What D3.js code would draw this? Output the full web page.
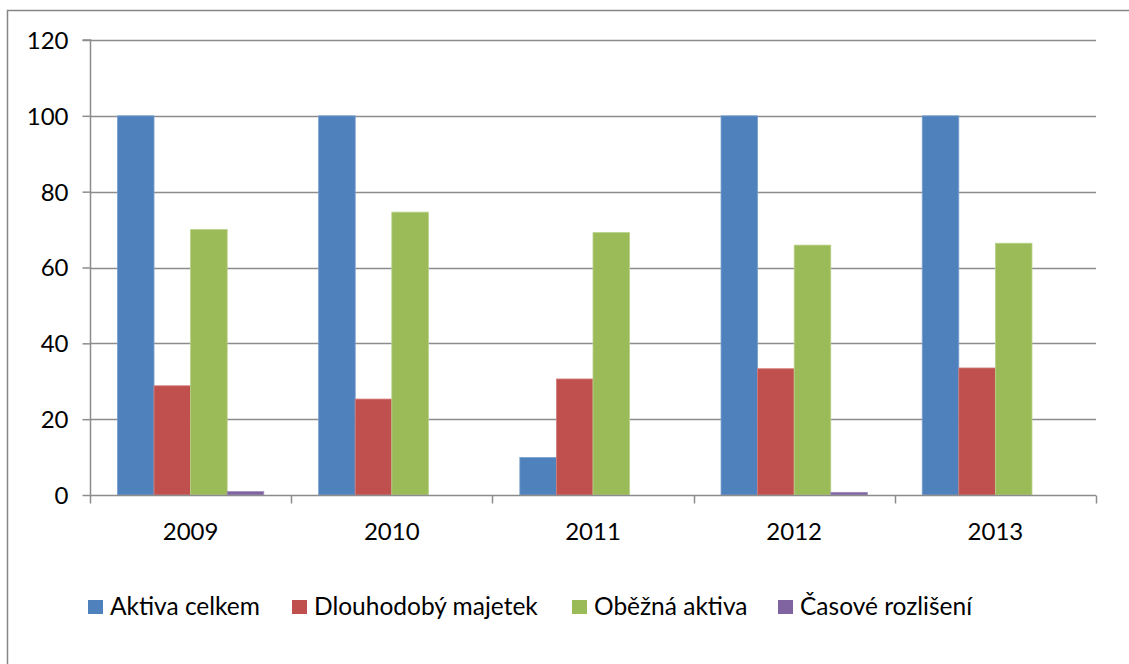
<!DOCTYPE html>
<html>
<head>
<meta charset="utf-8">
<script src="https://cdn.jsdelivr.net/npm/d3@7/dist/d3.min.js"></script>
<style>
  html, body { margin: 0; padding: 0; background: #fff; }
  svg { display: block; }
  text { font-family: Lato, "Open Sans", sans-serif; fill: #000; }
</style>
</head>
<body>
<svg id="chart" width="1129" height="664"></svg>
<script>
const years = ["2009", "2010", "2011", "2012", "2013"];
const seriesNames = ["Aktiva celkem", "Dlouhodobý majetek", "Oběžná aktiva", "Časové rozlišení"];
const seriesColors = ["#4F81BD", "#C0504D", "#9BBB59", "#8064A2"];
const seriesEdges = ["#7BA0CF", "#D27C79", "#B8D187", "#A08BC0"];
const aktivaCelkem = [100, 100, 9.9, 100, 100];
const dlouhodobyMajetek = [28.8, 25.3, 30.6, 33.3, 33.5];
const obeznaAktiva = [70.0, 74.6, 69.2, 65.9, 66.4];
const casoveRozliseni = [0.9, 0, 0, 0.7, 0];
const yTicks = [0, 20, 40, 60, 80, 100, 120];

const seriesValues = [aktivaCelkem, dlouhodobyMajetek, obeznaAktiva, casoveRozliseni];

const svg = d3.select("#chart");
const W = 1129, H = 664;
const plot = { left: 90, right: 1096, top: 40, bottom: 495 };

// outer chart border
svg.append("rect")
  .attr("x", 7.5).attr("y", 10.5)
  .attr("width", W + 10).attr("height", H + 10)
  .attr("fill", "none").attr("stroke", "#868686").attr("stroke-width", 1.5);

const x0 = d3.scaleBand().domain(years).range([plot.left, plot.right]).paddingInner(0).paddingOuter(0);
const x1 = d3.scaleBand().domain(d3.range(seriesNames.length)).range([0, x0.bandwidth()]).paddingInner(0).paddingOuter(0.75);
const y = d3.scaleLinear().domain([0, 120]).range([plot.bottom, plot.top]);

// gridlines
svg.append("g")
  .selectAll("line")
  .data(yTicks.filter(d => d > 0))
  .join("line")
  .attr("x1", plot.left).attr("x2", plot.right)
  .attr("y1", d => Math.round(y(d)) + 0.5).attr("y2", d => Math.round(y(d)) + 0.5)
  .attr("stroke", "#8C8C8C").attr("stroke-width", 1.5);

// bars
const groups = svg.append("g")
  .selectAll("g")
  .data(years)
  .join("g")
  .attr("transform", d => `translate(${x0(d)},0)`);

groups.selectAll("rect")
  .data((yr, i) => seriesValues.map((vals, s) => ({ s, v: vals[i] })).filter(d => d.v > 0))
  .join("rect")
  .attr("x", d => x1(d.s))
  .attr("width", x1.bandwidth())
  .attr("y", d => y(d.v))
  .attr("height", d => y(0) - y(d.v))
  .attr("fill", d => seriesColors[d.s])
  .attr("stroke", d => seriesEdges[d.s])
  .attr("stroke-width", 0.8);

// y axis
const yAxis = d3.axisLeft(y).tickValues(yTicks).tickSize(8).tickPadding(14).tickFormat(d3.format("d"));
const yg = svg.append("g").attr("transform", `translate(${plot.left + 0.5},0)`).call(yAxis);
yg.select(".domain").attr("stroke", "#8C8C8C").attr("stroke-width", 1.5).attr("d", `M-8,${plot.top}H0V${plot.bottom}`);
yg.selectAll(".tick line").attr("stroke", "#8C8C8C").attr("stroke-width", 1.5);
yg.selectAll(".tick text").style("font-size", "24px").attr("dy", "0.35em");

// x axis
const xg = svg.append("g").attr("transform", `translate(0,${plot.bottom + 0.5})`);
xg.append("line").attr("x1", plot.left).attr("x2", plot.right).attr("stroke", "#8C8C8C").attr("stroke-width", 1.5);
const boundaries = years.map(d => x0(d)).concat([x0(years[years.length - 1]) + x0.bandwidth()]);
xg.selectAll("line.tk").data(boundaries).join("line").attr("class", "tk")
  .attr("x1", d => Math.round(d) + 0.5).attr("x2", d => Math.round(d) + 0.5)
  .attr("y1", 0).attr("y2", 8)
  .attr("stroke", "#8C8C8C").attr("stroke-width", 1.5);
xg.selectAll("text").data(years).join("text")
  .attr("x", d => x0(d) + x0.bandwidth() / 2)
  .attr("y", 44)
  .attr("text-anchor", "middle")
  .style("font-size", "24px")
  .text(d => d);

// legend
const legendX = [88, 292, 572, 778];
const lg = svg.append("g");
const items = lg.selectAll("g").data(seriesNames).join("g")
  .attr("transform", (d, i) => `translate(${legendX[i]},600)`);
items.append("rect").attr("width", 15).attr("height", 14).attr("fill", (d, i) => seriesColors[i]);
items.append("text").attr("x", 22).attr("y", 15).style("font-size", "24.5px").text(d => d);
</script>
</body>
</html>
